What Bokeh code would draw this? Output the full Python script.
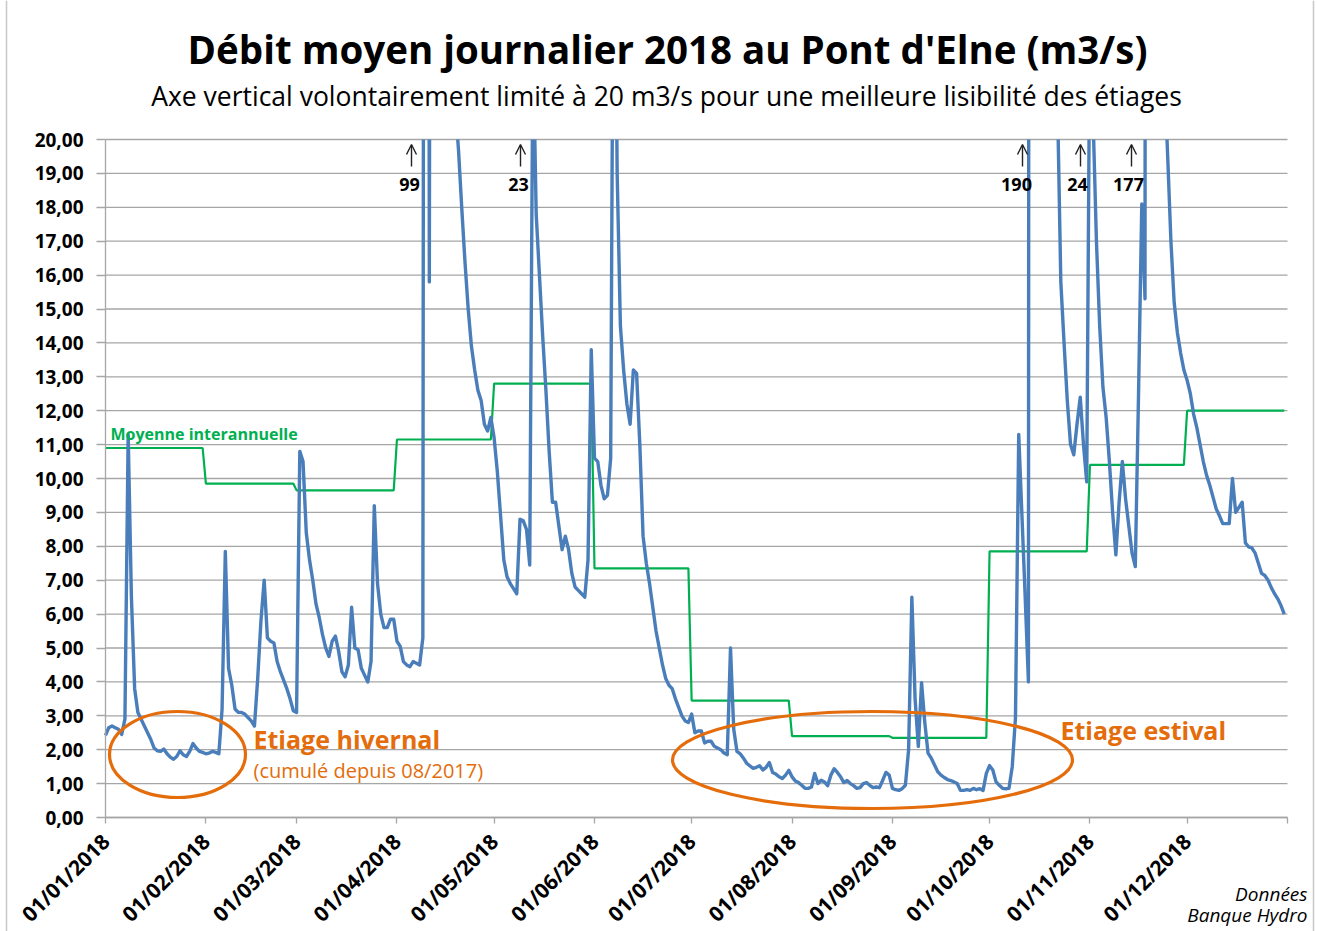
import math
from bokeh.plotting import figure
from bokeh.models import Range1d, FixedTicker, Label, Arrow, OpenHead, Span
from bokeh.core.properties import value
from bokeh.embed import file_html
from bokeh.resources import INLINE

# ---------------- data ----------------
month_start_days = [0, 31, 59, 90, 120, 151, 181, 212, 243, 273, 304, 334, 365]
month_labels = ["01/01/2018", "01/02/2018", "01/03/2018", "01/04/2018", "01/05/2018",
                "01/06/2018", "01/07/2018", "01/08/2018", "01/09/2018", "01/10/2018",
                "01/11/2018", "01/12/2018", ""]
y_ticks = [0, 1, 2, 3, 4, 5, 6, 7, 8, 9, 10, 11, 12, 13, 14, 15, 16, 17, 18, 19, 20]
y_tick_labels = ["0,00", "1,00", "2,00", "3,00", "4,00", "5,00", "6,00", "7,00", "8,00",
                 "9,00", "10,00", "11,00", "12,00", "13,00", "14,00", "15,00", "16,00",
                 "17,00", "18,00", "19,00", "20,00"]

# monthly inter-annual mean (m3/s)
monthly_mean = [10.9, 9.85, 9.65, 11.15, 12.8, 7.35, 3.45, 2.4, 2.35, 7.85, 10.4, 12.0]

# daily mean flow 2018 (day of year, m3/s)
flow_day = list(range(0, 365))
flow_value = [
    2.42, 2.65, 2.7, 2.65, 2.6, 2.45, 2.9, 11.3, 6.5, 3.8,          # 0-9
    3.1, 2.9, 2.7, 2.5, 2.3, 2.05, 1.97, 1.95, 2.02, 1.88,           # 10-19
    1.78, 1.72, 1.8, 1.97, 1.85, 1.8, 1.95, 2.18, 2.05, 1.95,        # 20-29
    1.92, 1.88, 1.9, 1.95, 1.92, 1.88, 3.2, 7.85, 4.4, 3.9,          # 30-39
    3.2, 3.1, 3.1, 3.05, 2.95, 2.85, 2.7, 4.1, 5.8, 7.0,             # 40-49
    5.3, 5.2, 5.15, 4.6, 4.3, 4.05, 3.8, 3.5, 3.15, 3.1,             # 50-59
    10.8, 10.5, 8.4, 7.6, 7.0, 6.3, 5.9, 5.4, 5.0, 4.75,             # 60-69
    5.2, 5.35, 4.9, 4.3, 4.15, 4.5, 6.2, 5.0, 4.95, 4.4,             # 70-79
    4.2, 4.0, 4.6, 9.2, 6.9, 6.0, 5.6, 5.6, 5.85, 5.85,              # 80-89
    5.2, 5.05, 4.6, 4.5, 4.45, 4.6, 4.55, 4.5, 5.3, 99.0,            # 90-99
    15.8, 80.0, 55.0, 42.0, 35.0, 30.0, 26.0, 23.0, 21.0, 19.7,      # 100-109
    18.0, 16.4, 15.0, 13.9, 13.2, 12.6, 12.3, 11.6, 11.4, 11.8,      # 110-119
    11.2, 10.2, 8.9, 7.6, 7.1, 6.9, 6.75, 6.6, 8.8, 8.75,            # 120-129
    8.5, 7.45, 23.0, 17.8, 16.0, 14.2, 12.6, 10.8, 9.3, 9.3,         # 130-139
    8.6, 7.9, 8.3, 7.9, 7.2, 6.8, 6.7, 6.6, 6.5, 7.6,                # 140-149
    13.8, 10.6, 10.5, 9.8, 9.4, 9.5, 10.6, 30.0, 19.0, 14.5,         # 150-159
    13.2, 12.2, 11.6, 13.2, 13.1, 11.0, 8.3, 7.5, 6.9, 6.2,          # 160-169
    5.5, 5.0, 4.5, 4.1, 3.9, 3.8, 3.5, 3.25, 3.0, 2.85,              # 170-179
    2.8, 3.05, 2.5, 2.55, 2.55, 2.2, 2.25, 2.25, 2.1, 2.05,          # 180-189
    2.0, 1.9, 1.85, 5.0, 2.6, 1.95, 1.88, 1.75, 1.6, 1.52,           # 190-199
    1.45, 1.48, 1.53, 1.4, 1.48, 1.62, 1.33, 1.28, 1.2, 1.15,        # 200-209
    1.25, 1.39, 1.2, 1.08, 1.03, 0.95, 0.86, 0.86, 0.9, 1.3,         # 210-219
    1.0, 1.1, 1.05, 0.94, 1.25, 1.44, 1.33, 1.2, 1.03, 1.09,         # 220-229
    1.0, 0.94, 0.86, 0.88, 1.0, 1.03, 0.95, 0.88, 0.9, 0.88,         # 230-239
    1.1, 1.33, 1.25, 0.86, 0.82, 0.8, 0.85, 0.95, 2.0, 6.5,          # 240-249
    3.5, 2.1, 3.98, 2.8, 1.9, 1.75, 1.55, 1.35, 1.25, 1.18,          # 250-259
    1.12, 1.09, 1.05, 1.0, 0.8, 0.8, 0.82, 0.8, 0.86, 0.82,          # 260-269
    0.85, 0.8, 1.3, 1.53, 1.4, 1.05, 0.95, 0.86, 0.85, 0.86,         # 270-279
    1.5, 2.95, 11.3, 8.9, 6.5, 4.0, 190.0, 120.0, 75.0, 50.0,        # 280-289
    38.0, 30.0, 26.0, 22.0, 21.0, 15.8, 14.0, 12.3, 11.0, 10.7,      # 290-299
    11.6, 12.4, 11.0, 9.9, 24.0, 20.5, 17.0, 14.5, 12.7, 11.8,       # 300-309
    10.5, 9.0, 7.75, 9.3, 10.5, 9.4, 8.6, 7.8, 7.4, 12.5,            # 310-319
    18.1, 15.3, 177.0, 110.0, 70.0, 45.0, 32.0, 22.0, 19.5, 17.0,    # 320-329
    15.2, 14.3, 13.7, 13.2, 12.9, 12.5, 11.9, 11.5, 11.0, 10.5,      # 330-339
    10.1, 9.8, 9.45, 9.1, 8.9, 8.67, 8.67, 8.67, 10.0, 9.0,          # 340-349
    9.15, 9.3, 8.1, 7.98, 7.95, 7.8, 7.5, 7.2, 7.14, 7.0,            # 350-359
    6.78, 6.6, 6.45, 6.25, 6.0,                                      # 360-364
]

peak_labels = ["99", "23", "190", "24", "177"]

# ---------------- layout helpers (reference pixel -> data) ----------------
W, H = 1317, 931
X0_PX, X1_PX = 105, 1287      # day 0 .. day 365
Y0_PX, Y20_PX = 817, 139      # 0 .. 20 m3/s
PXD = (X1_PX - X0_PX) / 365.0
PXV = (Y0_PX - Y20_PX) / 20.0
Y_MAX = 20                    # vertical axis deliberately capped


def dx(px):
    return (px - X0_PX) / PXD


def dy(py):
    return (Y0_PX - py) / PXV


def clip_top(xs, ys, top):
    """Cut a polyline at y = top (the axis cap), breaking it where it leaves the area."""
    out_x, out_y = [], []
    for i, (x, y) in enumerate(zip(xs, ys)):
        if i > 0:
            xp, yp = xs[i - 1], ys[i - 1]
            if (yp <= top) != (y <= top):
                t = (top - yp) / (y - yp)
                out_x.append(xp + t * (x - xp))
                out_y.append(top)
                if y > top:
                    out_x.append(float("nan"))
                    out_y.append(float("nan"))
        if y <= top:
            out_x.append(x)
            out_y.append(y)
    return out_x, out_y


FONT = "Open Sans"
BLUE = "#4A7EBB"
GREEN = "#00B050"
ORANGE = "#E46C0A"
GRID = "#A6A6A6"

# step line for the monthly mean (one constant value per month, daily series)
mean_x, mean_y = [], []
for i, v in enumerate(monthly_mean):
    mean_x += [month_start_days[i], month_start_days[i + 1] - 1]
    mean_y += [v, v]

flow_x, flow_y = clip_top(flow_day, flow_value, Y_MAX)

p = figure(width=W, height=H, output_backend="svg", toolbar_location=None,
           x_range=Range1d(dx(0), dx(W)), y_range=Range1d(dy(H), dy(0)),
           min_border=0, min_border_left=0, min_border_right=0,
           min_border_top=0, min_border_bottom=0)
p.title.visible = False
p.background_fill_color = "white"
p.border_fill_color = "white"
p.outline_line_color = None
p.xgrid.visible = False
p.ygrid.visible = False

# horizontal gridlines limited to the plotting area
p.segment(x0=[0] * len(y_ticks), x1=[365] * len(y_ticks), y0=y_ticks, y1=y_ticks,
          line_color=GRID, line_width=1.3)

# y axis (fixed at day 0)
p.yaxis.fixed_location = 0
p.yaxis.bounds = (0, Y_MAX)
p.yaxis.ticker = FixedTicker(ticks=y_ticks)
p.yaxis.major_label_overrides = {t: l for t, l in zip(y_ticks, y_tick_labels)}
p.yaxis.axis_line_color = GRID
p.yaxis.axis_line_width = 1.3
p.yaxis.major_tick_line_color = GRID
p.yaxis.major_tick_line_width = 1.3
p.yaxis.major_tick_out = 9
p.yaxis.major_tick_in = 0
p.yaxis.minor_tick_line_color = None
p.yaxis.major_label_text_font = FONT
p.yaxis.major_label_text_font_style = "bold"
p.yaxis.major_label_text_font_size = "19px"
p.yaxis.major_label_text_color = "black"
p.yaxis.major_label_standoff = 13

# x axis (fixed at 0 m3/s)
p.xaxis.fixed_location = 0
p.xaxis.bounds = (0, 365)
p.xaxis.ticker = FixedTicker(ticks=month_start_days)
p.xaxis.major_label_overrides = {d: l for d, l in zip(month_start_days, month_labels)}
p.xaxis.major_label_orientation = math.pi / 4
p.xaxis.axis_line_color = GRID
p.xaxis.axis_line_width = 1.3
p.xaxis.major_tick_line_color = GRID
p.xaxis.major_tick_line_width = 1.3
p.xaxis.major_tick_out = 6
p.xaxis.major_tick_in = 0
p.xaxis.minor_tick_line_color = None
p.xaxis.major_label_text_font = FONT
p.xaxis.major_label_text_font_style = "bold"
p.xaxis.major_label_text_font_size = "21px"
p.xaxis.major_label_text_color = "black"
p.xaxis.major_label_standoff = 14

# series
p.line(mean_x, mean_y, line_color=GREEN, line_width=2.2)
p.line(flow_x, flow_y, line_color=BLUE, line_width=3.4, line_join="round")

# orange ellipses
p.ellipse(x=[dx(177)], y=[dy(754)], width=136 / PXD, height=86 / PXV, fill_color=None,
          line_color=ORANGE, line_width=3.2)
p.ellipse(x=[dx(872)], y=[dy(759.5)], width=400 / PXD, height=97 / PXV, fill_color=None,
          line_color=ORANGE, line_width=3.2)

# peak arrows and values
label_px = [409, 518, 1016, 1077, 1128]
arrow_px = [411, 520, 1022, 1080, 1131]
for lab, lx, ax in zip(peak_labels, label_px, arrow_px):
    p.add_layout(Arrow(x_start=dx(ax), y_start=dy(166), x_end=dx(ax), y_end=dy(144),
                       line_color="#222222", line_width=1.4,
                       end=OpenHead(size=10, line_color="#222222", line_width=1.4)))
    p.add_layout(Label(x=dx(lx), y=dy(184), text=lab, text_align="center",
                       text_baseline="middle", text_font=FONT, text_font_style="bold",
                       text_font_size="18px", text_color="black"))


def add_text(txt, px, py, size, color="black", align="left", style="normal"):
    p.add_layout(Label(x=dx(px), y=dy(py), text=txt, text_align=align,
                       text_baseline="middle", text_font=FONT, text_font_style=style,
                       text_font_size=size, text_color=color))


add_text("Moyenne interannuelle", 110, 433, "16px", GREEN, style="bold")
add_text("Etiage hivernal", 253, 738, "25px", ORANGE, style="bold")
add_text("(cumulé depuis 08/2017)", 253, 770, "20px", ORANGE)
add_text("Etiage estival", 1060, 729, "25px", ORANGE, style="bold")
add_text("Débit moyen journalier 2018 au Pont d'Elne (m3/s)", 667, 48, "38.5px",
         align="center", style="bold")
add_text("Axe vertical volontairement limité à 20 m3/s pour une meilleure lisibilité des étiages",
         666, 95, "26.5px", align="center")
add_text("Données", 1307, 893, "19px", align="right", style="italic")
add_text("Banque Hydro", 1307, 914, "19px", align="right", style="italic")

# chart-area border (left / right edges)
p.add_layout(Span(location=dx(6), dimension="height", line_color="#C8C8C8", line_width=1.5))
p.add_layout(Span(location=dx(1313), dimension="height", line_color="#C8C8C8", line_width=1.5))

open("out.html", "w").write(file_html(p, INLINE))
